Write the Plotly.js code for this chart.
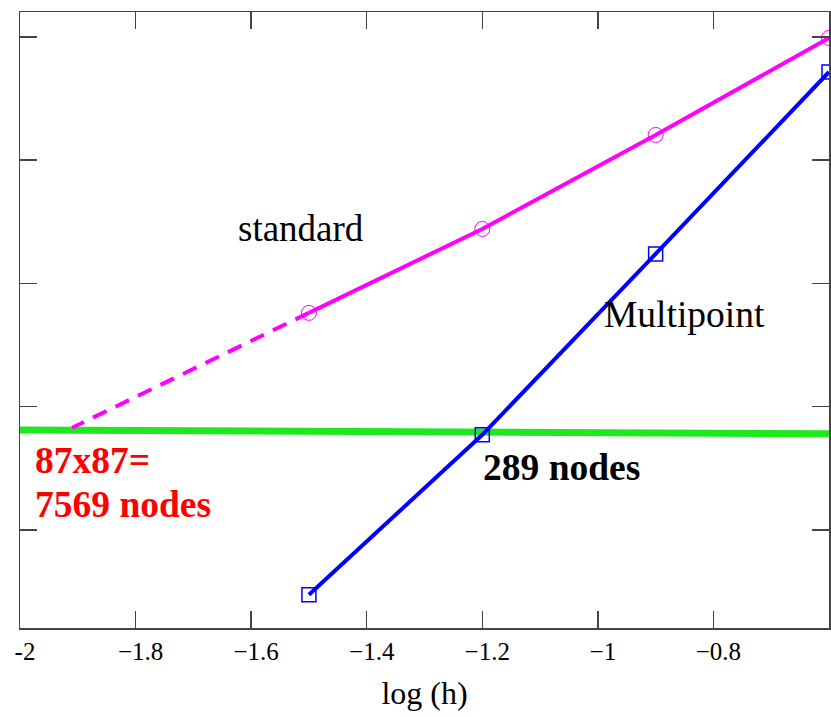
<!DOCTYPE html>
<html>
<head>
<meta charset="utf-8">
<script src="https://cdn.plot.ly/plotly-3.0.1.min.js"></script>
<style>
  html, body { margin: 0; padding: 0; background: #fff; }
  #chart { width: 831px; height: 717px; }
</style>
</head>
<body>
<div id="chart"></div>
<script>
// log(h) sample points shared by both schemes
const logH = [-1.5, -1.2, -0.9, -0.6];

// log(error) for the standard scheme
const standardErr = [-4.239, -3.558, -2.795, -2.008];

// dashed extrapolation of the standard scheme down to the target error
const standardExtX = [-1.5, -1.91];
const standardExtY = [-4.239, -5.172];

// log(error) for the multipoint scheme
const multipointErr = [-6.527, -5.229, -3.761, -2.284];

// target error level
const targetX = [-2.0, -0.6];
const targetY = [-5.189, -5.221];

// axis ticks
const xTickVals = [-2, -1.8, -1.6, -1.4, -1.2, -1, -0.8];
const xTickText = ["-2", "\u22121.8", "\u22121.6", "\u22121.4", "\u22121.2", "\u22121", "\u22120.8"];
const yTickVals = [-2, -3, -4, -5, -6];

const serif = "Liberation Serif, Times New Roman, serif";

const traces = [
  {
    x: targetX, y: targetY, mode: "lines",
    line: { color: "#1fe81f", width: 7 },
    hoverinfo: "skip"
  },
  {
    x: standardExtX, y: standardExtY, mode: "lines",
    line: { color: "#ff00ff", width: 4, dash: "15px,10px" },
    hoverinfo: "skip"
  },
  {
    x: logH, y: standardErr, mode: "lines+markers",
    line: { color: "#ff00ff", width: 4 },
    marker: { symbol: "circle-open", size: 15, color: "#ff00ff", line: { width: 1, color: "#ff00ff" } }
  },
  {
    x: logH, y: multipointErr, mode: "lines+markers",
    line: { color: "#0000ff", width: 4 },
    marker: { symbol: "square-open", size: 14, color: "#0000ff", line: { width: 1.5, color: "#0000ff" } },
    cliponaxis: false
  }
];

const layout = {
  width: 831, height: 717,
  margin: { l: 20, r: 2, t: 12, b: 89 },
  paper_bgcolor: "#ffffff",
  plot_bgcolor: "#ffffff",
  showlegend: false,
  font: { family: serif, color: "#000" },
  xaxis: {
    range: [-2, -0.6],
    tickvals: xTickVals, ticktext: xTickText,
    ticks: "inside", ticklen: 17, tickwidth: 1.5, tickcolor: "#444",
    showline: true, linecolor: "#444", linewidth: 1.5, mirror: "ticks",
    showgrid: false, zeroline: false,
    tickfont: { family: serif, size: 25, color: "#000" },
    ticklabelshift: 5,
    title: { text: "log (h)", font: { family: serif, size: 32, color: "#000" }, standoff: 18 }
  },
  yaxis: {
    range: [-6.797, -1.797],
    tickvals: yTickVals, showticklabels: false,
    ticks: "inside", ticklen: 17, tickwidth: 1.5, tickcolor: "#444",
    showline: true, linecolor: "#444", linewidth: 1.5, mirror: "ticks",
    showgrid: false, zeroline: false
  },
  annotations: [
    { x: -1.513, y: -3.558, text: "standard", showarrow: false,
      font: { family: serif, size: 37, color: "#000" } },
    { x: -0.850, y: -4.256, text: "Multipoint", showarrow: false,
      font: { family: serif, size: 37.5, color: "#000" } },
    { x: -1.063, y: -5.497, text: "<b>289 nodes</b>", showarrow: false,
      font: { family: serif, size: 37.5, color: "#000" } },
    { x: -1.977, y: -5.440, xanchor: "left", text: "<b>87x87=</b>", showarrow: false,
      font: { family: serif, size: 37.5, color: "#ff0000" } },
    { x: -1.977, y: -5.797, xanchor: "left", text: "<b>7569 nodes</b>", showarrow: false,
      font: { family: serif, size: 37.5, color: "#ff0000" } }
  ]
};

Plotly.newPlot("chart", traces, layout, { displayModeBar: false, staticPlot: true });
</script>
</body>
</html>
